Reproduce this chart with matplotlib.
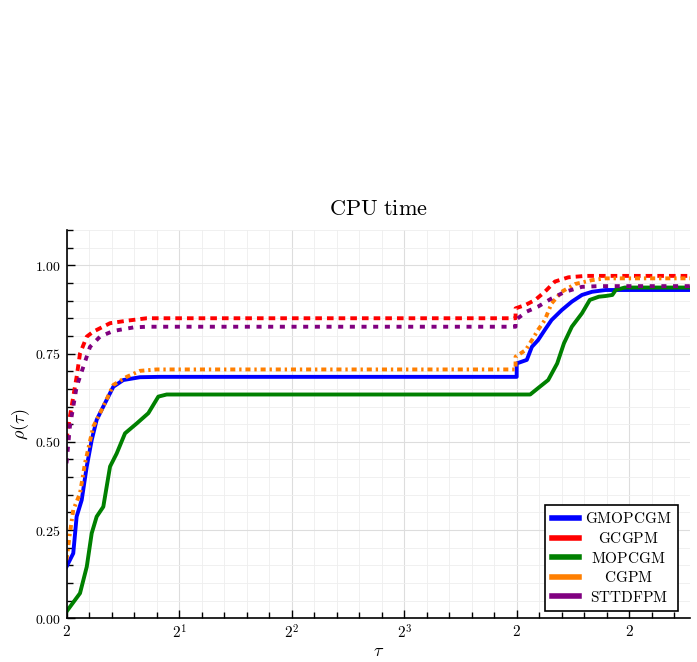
import matplotlib
matplotlib.use("Agg")
import matplotlib.pyplot as plt
import numpy as np
from matplotlib.ticker import MultipleLocator
from matplotlib.lines import Line2D
from matplotlib.transforms import Affine2D

plt.rcParams['mathtext.fontset'] = 'cm'
plt.rcParams['font.family'] = ['DejaVu Serif']

# log2(tau) and rho(tau)
gmopcgm_x = [0.0, 0.06, 0.09, 0.135, 0.18, 0.224, 0.268, 0.327, 0.416, 0.505, 0.653, 0.83,
             4.0, 4.0, 4.09, 4.135, 4.19, 4.25, 4.31, 4.40, 4.49, 4.58, 4.67, 4.79, 5.54]
gmopcgm_y = [0.146, 0.184, 0.288, 0.335, 0.43, 0.505, 0.562, 0.60, 0.656, 0.675, 0.683, 0.684,
             0.684, 0.722, 0.732, 0.769, 0.788, 0.817, 0.845, 0.873, 0.897, 0.916, 0.925, 0.93, 0.93]

gcgpm_x = [0.0, 0.03, 0.09, 0.12, 0.18, 0.238, 0.387, 0.535, 0.713,
           3.99, 3.99, 4.08, 4.165, 4.25, 4.34, 4.46, 4.61, 5.54]
gcgpm_y = [0.505, 0.571, 0.684, 0.75, 0.798, 0.812, 0.836, 0.843, 0.85,
           0.85, 0.878, 0.888, 0.902, 0.925, 0.954, 0.966, 0.97, 0.97]

mopcgm_x = [0.0, 0.12, 0.18, 0.224, 0.268, 0.327, 0.387, 0.446, 0.52, 0.624, 0.727, 0.816, 0.89,
            4.12, 4.19, 4.28, 4.36, 4.42, 4.49, 4.58, 4.65, 4.73, 4.79, 4.85, 4.88, 4.96, 5.54]
mopcgm_y = [0.019, 0.071, 0.146, 0.241, 0.288, 0.316, 0.43, 0.467, 0.524, 0.552, 0.581, 0.628, 0.634,
            0.634, 0.652, 0.675, 0.722, 0.779, 0.826, 0.864, 0.902, 0.911, 0.913, 0.916, 0.93, 0.937, 0.937]

cgpm_x = [0.0, 0.03, 0.06, 0.12, 0.164, 0.238, 0.327, 0.416, 0.535, 0.653, 0.80,
          3.99, 3.99, 4.08, 4.135, 4.19, 4.25, 4.31, 4.40, 4.52, 4.67, 4.79, 5.54]
cgpm_y = [0.165, 0.24, 0.307, 0.354, 0.439, 0.543, 0.60, 0.661, 0.684, 0.701, 0.705,
          0.705, 0.741, 0.76, 0.788, 0.817, 0.845, 0.892, 0.925, 0.947, 0.958, 0.963, 0.963]

sttdfpm_x = [0.0, 0.03, 0.09, 0.15, 0.209, 0.298, 0.416, 0.594, 0.713,
             3.99, 3.99, 4.09, 4.19, 4.31, 4.43, 4.58, 4.73, 5.54]
sttdfpm_y = [0.439, 0.543, 0.656, 0.713, 0.769, 0.798, 0.814, 0.824, 0.826,
             0.826, 0.845, 0.869, 0.883, 0.906, 0.925, 0.939, 0.941, 0.941]

names = ["GMOPCGM", "GCGPM", "MOPCGM", "CGPM", "STTDFPM"]
colors = ["#0000ff", "#ff0000", "#008000", "#ff7f00", "#800080"]
styles = ["-", (0, (1.7, 1.3)), "-", (0, (1.3, 1.0, 0.6, 1.0)), (0, (1.3, 1.7))]
xticks_log2 = [0, 1, 2, 3, 4, 5]
xtick_labels = ["$2$", "$2^{1}$", "$2^{2}$", "$2^{3}$", "$2$", "$2$"]
yticks = [0.0, 0.25, 0.5, 0.75, 1.0]
ytick_labels = ["$0.00$", "$0.25$", "$0.50$", "$0.75$", "$1.00$"]

series = [(gmopcgm_x, gmopcgm_y), (gcgpm_x, gcgpm_y), (mopcgm_x, mopcgm_y),
          (cgpm_x, cgpm_y), (sttdfpm_x, sttdfpm_y)]

fig = plt.figure(figsize=(6.97, 6.62), dpi=100)
ax = fig.add_axes([66.5/697, 43.7/662, 623.5/697, 388.3/662])

for (xs, ys), c, ls in zip(series, colors, styles):
    ax.plot(xs, ys, color=c, linestyle=ls, linewidth=2.8, dash_capstyle='butt')

ax.set_xlim(0, 5.54)
ax.set_ylim(0, 1.1)
ax.set_xticks(xticks_log2)
ax.set_xticklabels(xtick_labels, fontsize=11)
ax.set_yticks(yticks)
ax.set_yticklabels(ytick_labels, fontsize=10)
ax.xaxis.set_minor_locator(MultipleLocator(0.2))
ax.yaxis.set_minor_locator(MultipleLocator(0.05))
ax.tick_params(which='major', direction='in', length=6, width=1, pad=4)
ax.tick_params(which='minor', direction='in', length=4, width=1)
ax.grid(which='major', color='#dddddd', linewidth=0.8)
ax.grid(which='minor', color='#eeeeee', linewidth=0.6)
ax.set_axisbelow(True)
for s in ['top', 'right']:
    ax.spines[s].set_visible(False)
for s in ['left', 'bottom']:
    ax.spines[s].set_linewidth(1.2)

ax.set_title(r"$\mathrm{CPU\ time}$", fontsize=16, pad=11)
ax.set_xlabel(r"$\tau$", fontsize=13, labelpad=0)
ax.set_ylabel(r"$\rho(\tau)$", fontsize=13, labelpad=2)

handles = [Line2D([0], [0], color=c, linewidth=4) for c in colors]
labels = [r"$\mathrm{%s}$" % n for n in names]
leg = ax.legend(handles, labels, loc='lower right', fontsize=11, frameon=True,
                fancybox=False, edgecolor='black', framealpha=1,
                handlelength=1.8, handletextpad=0.4, borderpad=0.4,
                labelspacing=0.3, borderaxespad=0,
                bbox_to_anchor=(1 - 12/623.5, 7.5/388.3))
leg.get_frame().set_linewidth(1.2)

# center the legend labels within their column
renderer = fig.canvas.get_renderer()
widths = [t.get_window_extent(renderer).width for t in leg.get_texts()]
maxw = max(widths)
for t, w in zip(leg.get_texts(), widths):
    t.set_transform(t.get_transform() + Affine2D().translate((maxw - w) / 2, 0))

fig.savefig("out.png", dpi=100)
